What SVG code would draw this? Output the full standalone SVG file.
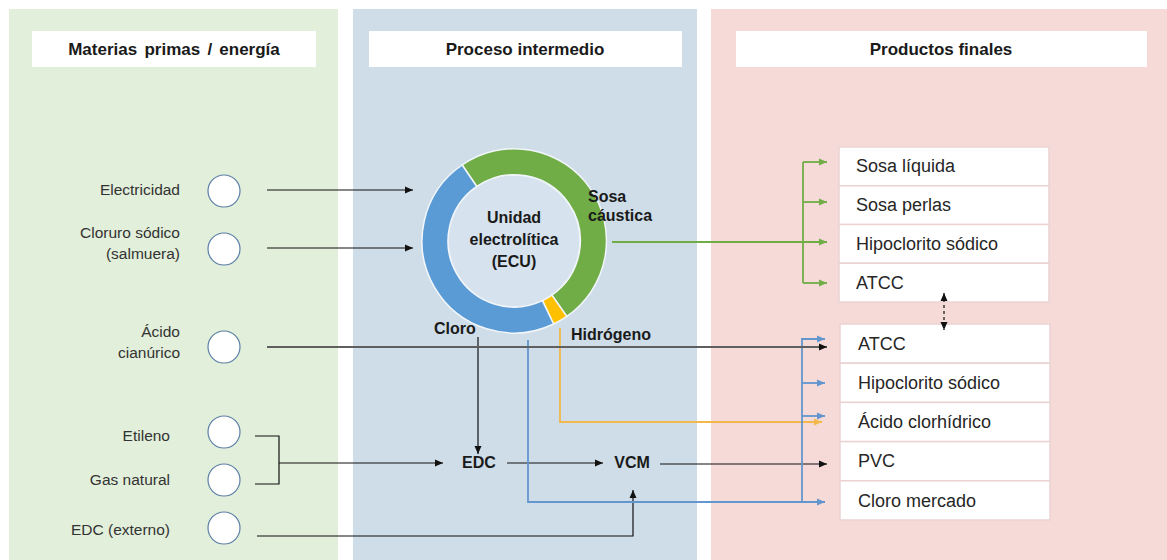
<svg xmlns="http://www.w3.org/2000/svg" width="1167" height="560" viewBox="0 0 1167 560">
<style>
.hdr{font-family:"Liberation Sans",Arial,sans-serif;font-weight:bold;font-size:17px;fill:#1a1a1a;text-anchor:middle}
.lbl{font-family:"Liberation Sans",Arial,sans-serif;font-size:15.5px;fill:#333;text-anchor:end}
.prod{font-family:"Liberation Sans",Arial,sans-serif;font-size:18px;fill:#262626}
.bld{font-family:"Liberation Sans",Arial,sans-serif;font-weight:bold;font-size:16px;fill:#1a1a1a}
.src{fill:#fff;stroke:#5b7fa6;stroke-width:1.2}
.box{fill:#fff;stroke:#ead3d2;stroke-width:1.5}
.k{fill:none;stroke:#111;stroke-width:1.2}
.gr{fill:none;stroke:#5f5f5f;stroke-width:2}
.g{fill:none;stroke:#70AD47;stroke-width:1.8}
.b{fill:none;stroke:#6396CF;stroke-width:1.8}
.y{fill:none;stroke:#F2B84B;stroke-width:1.8}
</style>
<defs>
<marker id="ak" markerUnits="userSpaceOnUse" markerWidth="10" markerHeight="10" viewBox="0 0 10 10" refX="9" refY="5" orient="auto"><path d="M1,1.5 L9,5 L1,8.5 Z" fill="#111"/></marker>
<marker id="ag" markerUnits="userSpaceOnUse" markerWidth="10" markerHeight="10" viewBox="0 0 10 10" refX="9" refY="5" orient="auto"><path d="M1,1.5 L9,5 L1,8.5 Z" fill="#70AD47"/></marker>
<marker id="ab" markerUnits="userSpaceOnUse" markerWidth="10" markerHeight="10" viewBox="0 0 10 10" refX="9" refY="5" orient="auto"><path d="M1,1.5 L9,5 L1,8.5 Z" fill="#6396CF"/></marker>
<marker id="ay" markerUnits="userSpaceOnUse" markerWidth="10" markerHeight="10" viewBox="0 0 10 10" refX="9" refY="5" orient="auto"><path d="M1,1.5 L9,5 L1,8.5 Z" fill="#F2B84B"/></marker>
<marker id="aks" markerUnits="userSpaceOnUse" markerWidth="10" markerHeight="10" viewBox="0 0 10 10" refX="9" refY="5" orient="auto-start-reverse"><path d="M1,1.5 L9,5 L1,8.5 Z" fill="#111"/></marker>
</defs>
<rect width="1167" height="560" fill="#fff"/>
<g id="panels">
<rect x="9" y="9" width="329" height="551" fill="#E2EFDA"/>
<rect x="353" y="9" width="344" height="551" fill="#CEDDE8"/>
<rect x="711" y="9" width="456" height="551" fill="#F6DAD7"/>
<rect x="32" y="31" width="284" height="36" fill="#fff"/>
<rect x="369" y="31" width="313" height="36" fill="#fff"/>
<rect x="736" y="31" width="411" height="36" fill="#fff"/>
<text class="hdr" x="174" y="55" word-spacing="2.5">Materias primas / energía</text>
<text class="hdr" x="525" y="55">Proceso intermedio</text>
<text class="hdr" x="941" y="55">Productos finales</text>
</g>
<g id="connectors">
<path class="k" d="M267,190 H413" marker-end="url(#ak)"/>
<path class="k" d="M267,248 H413" marker-end="url(#ak)"/>
<path class="k" d="M255,436 H279 V484 H255"/>
<path class="k" d="M279,463 H443" marker-end="url(#ak)"/>
<path class="k" d="M478,337 V454" marker-end="url(#ak)"/>
<path class="k" d="M507,463 H603" marker-end="url(#ak)"/>
<path class="k" d="M660,464 H827" marker-end="url(#ak)"/>
<path class="k" d="M257,536 H633 V490" marker-end="url(#ak)"/>
<path class="y" d="M560,328 V422 H822" marker-end="url(#ay)"/>
<path class="b" d="M528,340 V502 H825" marker-end="url(#ab)"/>
<path class="b" d="M802,502 V339 H825" marker-end="url(#ab)"/>
<path class="b" d="M802,383 H825" marker-end="url(#ab)"/>
<path class="b" d="M802,416 H825" marker-end="url(#ab)"/>
<path class="gr" d="M267,347 H827" marker-end="url(#ak)"/>
<path class="g" d="M612,242 H827" marker-end="url(#ag)"/>
<path class="g" d="M803,162 V283"/>
<path class="g" d="M803,162 H827" marker-end="url(#ag)"/>
<path class="g" d="M803,202 H827" marker-end="url(#ag)"/>
<path class="g" d="M803,283 H827" marker-end="url(#ag)"/>
</g>
<g id="src-electricidad"><circle class="src" cx="224" cy="191" r="16"/><text class="lbl" x="180" y="195">Electricidad</text></g>
<g id="src-cloruro"><circle class="src" cx="224" cy="249" r="16"/><text class="lbl" x="180" y="238">Cloruro sódico</text><text class="lbl" x="180" y="259">(salmuera)</text></g>
<g id="src-acido"><circle class="src" cx="224" cy="347" r="16"/><text class="lbl" x="180" y="337">Ácido</text><text class="lbl" x="180" y="358">cianúrico</text></g>
<g id="src-etileno"><circle class="src" cx="224" cy="432" r="16"/><text class="lbl" x="170" y="441">Etileno</text></g>
<g id="src-gas"><circle class="src" cx="224" cy="480" r="16"/><text class="lbl" x="170" y="485">Gas natural</text></g>
<g id="src-edcext"><circle class="src" cx="224" cy="528" r="16"/><text class="lbl" x="170" y="535">EDC (externo)</text></g>
<g id="ecu">
<circle cx="514" cy="241" r="66" fill="#D6E3EE" stroke="#eef3f8" stroke-width="1.5"/>
<path d="M462.16,165 A92,92 0 0 1 566.77,316.37 L551.86,295.07 A66,66 0 0 0 476.81,186.48 Z" fill="#70AD47" stroke="#f2f6fa" stroke-width="1.5"/>
<path d="M566.77,316.37 A92,92 0 0 1 553.61,324.04 L542.41,300.57 A66,66 0 0 0 551.86,295.07 Z" fill="#FFC000" stroke="#f2f6fa" stroke-width="1.5"/>
<path d="M553.61,324.04 A92,92 0 0 1 462.16,165 L476.81,186.48 A66,66 0 0 0 542.41,300.57 Z" fill="#5B9BD5" stroke="#f2f6fa" stroke-width="1.5"/>
<text class="bld" x="514" y="223" text-anchor="middle">Unidad</text>
<text class="bld" x="514" y="245" text-anchor="middle">electrolítica</text>
<text class="bld" x="514" y="267" text-anchor="middle">(ECU)</text>
<text class="bld" x="588" y="202">Sosa</text>
<text class="bld" x="588" y="221">cáustica</text>
<text class="bld" x="434" y="334">Cloro</text>
<text class="bld" x="571" y="340">Hidrógeno</text>
</g>
<g id="edc"><text class="bld" x="479" y="468" text-anchor="middle" font-size="15">EDC</text></g>
<g id="vcm"><text class="bld" x="632" y="468" text-anchor="middle" font-size="15">VCM</text></g>
<g id="productos-sosa">
<rect class="box" x="839" y="147" width="210" height="38.75"/>
<rect class="box" x="839" y="185.75" width="210" height="38.75"/>
<rect class="box" x="839" y="224.5" width="210" height="38.75"/>
<rect class="box" x="839" y="263.25" width="210" height="38.75"/>
<text class="prod" x="856" y="172">Sosa líquida</text>
<text class="prod" x="856" y="211">Sosa perlas</text>
<text class="prod" x="856" y="250">Hipoclorito sódico</text>
<text class="prod" x="856" y="289">ATCC</text>
</g>
<g id="productos-cloro">
<rect class="box" x="840" y="324" width="210" height="39.2"/>
<rect class="box" x="840" y="363.2" width="210" height="39.2"/>
<rect class="box" x="840" y="402.4" width="210" height="39.2"/>
<rect class="box" x="840" y="441.6" width="210" height="39.2"/>
<rect class="box" x="840" y="480.8" width="210" height="39.2"/>
<text class="prod" x="858" y="350">ATCC</text>
<text class="prod" x="858" y="389">Hipoclorito sódico</text>
<text class="prod" x="858" y="428">Ácido clorhídrico</text>
<text class="prod" x="858" y="467">PVC</text>
<text class="prod" x="858" y="507">Cloro mercado</text>
</g>
<g id="atcc-link"><path d="M944,293 V330" fill="none" stroke="#111" stroke-width="1.2" stroke-dasharray="3,3" marker-start="url(#aks)" marker-end="url(#aks)"/></g>
</svg>
